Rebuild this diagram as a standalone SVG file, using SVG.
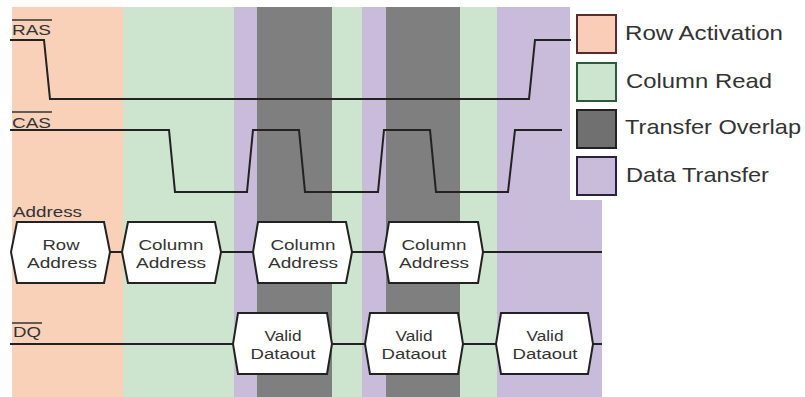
<svg xmlns="http://www.w3.org/2000/svg" width="805" height="397" viewBox="0 0 805 397">
  <style>
    .row  { fill: #f9d0b8; }
    .col  { fill: #cde4cf; }
    .ovl  { fill: #7f7f7f; }
    .xfer { fill: #c8bcda; }
    .sig  { fill: none; stroke: #222; stroke-width: 2; stroke-linejoin: miter; }
    .hex  { fill: #fff; stroke: #222; stroke-width: 2; }
    .lbl  { font-family: "Liberation Sans", Arial, sans-serif; font-size: 15px; fill: #333; }
    .htxt { font-family: "Liberation Sans", Arial, sans-serif; font-size: 15.5px; fill: #333; text-anchor: middle; }
    .leg  { font-family: "Liberation Sans", Arial, sans-serif; font-size: 21px; fill: #333; }
    .bar  { stroke: #333; stroke-width: 1.5; }
  </style>

  <rect width="805" height="397" fill="#fff"/>

  <!-- timing phase bands -->
  <g id="bands">
    <rect class="row"  x="12"  y="7" width="111" height="390"/>
    <rect class="col"  x="123" y="7" width="111" height="390"/>
    <rect class="xfer" x="234" y="7" width="23"  height="390"/>
    <rect class="ovl"  x="257" y="7" width="75"  height="390"/>
    <rect class="col"  x="332" y="7" width="30"  height="390"/>
    <rect class="xfer" x="362" y="7" width="24"  height="390"/>
    <rect class="ovl"  x="386" y="7" width="74"  height="390"/>
    <rect class="col"  x="460" y="7" width="37"  height="390"/>
    <rect class="xfer" x="497" y="7" width="105" height="390"/>
  </g>

  <!-- legend -->
  <g id="legend">
    <rect x="570" y="0" width="235" height="200" fill="#fff"/>
    <g id="legend-row">
      <rect x="577" y="15" width="39" height="38" fill="#f9cdb7" stroke="#5a2a2e" stroke-width="2"/>
      <text class="leg" x="625" y="40" textLength="158" lengthAdjust="spacingAndGlyphs">Row Activation</text>
    </g>
    <g id="legend-col">
      <rect x="577" y="63" width="39" height="38" fill="#cde4cf" stroke="#2d5a3a" stroke-width="2"/>
      <text class="leg" x="626" y="88" textLength="146" lengthAdjust="spacingAndGlyphs">Column Read</text>
    </g>
    <g id="legend-ovl">
      <rect x="577" y="110" width="39" height="38" fill="#707070" stroke="#222" stroke-width="2"/>
      <text class="leg" x="625" y="134" textLength="176" lengthAdjust="spacingAndGlyphs">Transfer Overlap</text>
    </g>
    <g id="legend-xfer">
      <rect x="577" y="157" width="39" height="38" fill="#c8bcda" stroke="#2a2040" stroke-width="2"/>
      <text class="leg" x="626" y="182" textLength="143" lengthAdjust="spacingAndGlyphs">Data Transfer</text>
    </g>
  </g>

  <!-- signal names -->
  <g id="labels">
    <g id="ras-label">
      <line class="bar" x1="12" y1="20" x2="52" y2="20"/>
      <text class="lbl" x="12" y="35" textLength="39" lengthAdjust="spacingAndGlyphs">RAS</text>
    </g>
    <g id="cas-label">
      <line class="bar" x1="12" y1="112" x2="52" y2="112"/>
      <text class="lbl" x="12" y="128" textLength="39" lengthAdjust="spacingAndGlyphs">CAS</text>
    </g>
    <g id="addr-label">
      <text class="lbl" x="13" y="217" font-size="17" textLength="69" lengthAdjust="spacingAndGlyphs">Address</text>
    </g>
    <g id="dq-label">
      <line class="bar" x1="12" y1="323" x2="42" y2="323"/>
      <text class="lbl" x="13" y="337" textLength="28" lengthAdjust="spacingAndGlyphs">DQ</text>
    </g>
  </g>

  <!-- waveforms and bus lines -->
  <g id="connectors">
    <polyline class="sig" points="10,40 44,40 50,99 529,99 535,40 571,40"/>
    <polyline class="sig" points="10,130 169,130 175,192 247,192 253,130 299,130 305,192 378,192 384,130 430,130 436,192 508,192 515,130 562,130"/>
    <line class="sig" x1="110" y1="252" x2="122" y2="252"/>
    <line class="sig" x1="221" y1="252" x2="253" y2="252"/>
    <line class="sig" x1="352" y1="252" x2="384" y2="252"/>
    <line class="sig" x1="483" y1="252" x2="602" y2="252"/>
    <line class="sig" x1="10"  y1="344" x2="233" y2="344"/>
    <line class="sig" x1="332" y1="344" x2="365" y2="344"/>
    <line class="sig" x1="463" y1="344" x2="496" y2="344"/>
    <line class="sig" x1="593" y1="344" x2="602" y2="344"/>
  </g>

  <!-- address bus values -->
  <g id="addr-row">
    <polygon class="hex" points="17,222 104,222 110,252 104,283 17,283 11,252"/>
    <text class="htxt" x="61" y="249.5" textLength="37" lengthAdjust="spacingAndGlyphs">Row</text>
    <text class="htxt" x="62" y="267.5" textLength="70" lengthAdjust="spacingAndGlyphs">Address</text>
  </g>
  <g id="addr-col1">
    <polygon class="hex" points="128,222 215,222 221,252 215,283 128,283 122,252"/>
    <text class="htxt" x="171" y="249.5" textLength="65" lengthAdjust="spacingAndGlyphs">Column</text>
    <text class="htxt" x="171" y="267.5" textLength="70" lengthAdjust="spacingAndGlyphs">Address</text>
  </g>
  <g id="addr-col2">
    <polygon class="hex" points="258,222 346,222 352,252 346,283 258,283 253,252"/>
    <text class="htxt" x="303" y="249.5" textLength="65" lengthAdjust="spacingAndGlyphs">Column</text>
    <text class="htxt" x="303" y="267.5" textLength="70" lengthAdjust="spacingAndGlyphs">Address</text>
  </g>
  <g id="addr-col3">
    <polygon class="hex" points="389,222 478,222 483,252 478,283 389,283 384,252"/>
    <text class="htxt" x="434" y="249.5" textLength="65" lengthAdjust="spacingAndGlyphs">Column</text>
    <text class="htxt" x="434" y="267.5" textLength="70" lengthAdjust="spacingAndGlyphs">Address</text>
  </g>

  <!-- data bus values -->
  <g id="dq-1">
    <polygon class="hex" points="238,313 327,313 332,344 327,374 238,374 233,344"/>
    <text class="htxt" x="283" y="340.5" textLength="37" lengthAdjust="spacingAndGlyphs">Valid</text>
    <text class="htxt" x="283" y="358.5" textLength="65" lengthAdjust="spacingAndGlyphs">Dataout</text>
  </g>
  <g id="dq-2">
    <polygon class="hex" points="370,313 458,313 463,344 458,374 370,374 365,344"/>
    <text class="htxt" x="414" y="340.5" textLength="37" lengthAdjust="spacingAndGlyphs">Valid</text>
    <text class="htxt" x="414" y="358.5" textLength="65" lengthAdjust="spacingAndGlyphs">Dataout</text>
  </g>
  <g id="dq-3">
    <polygon class="hex" points="501,313 588,313 593,344 588,374 501,374 496,344"/>
    <text class="htxt" x="545" y="340.5" textLength="37" lengthAdjust="spacingAndGlyphs">Valid</text>
    <text class="htxt" x="545" y="358.5" textLength="65" lengthAdjust="spacingAndGlyphs">Dataout</text>
  </g>
</svg>
